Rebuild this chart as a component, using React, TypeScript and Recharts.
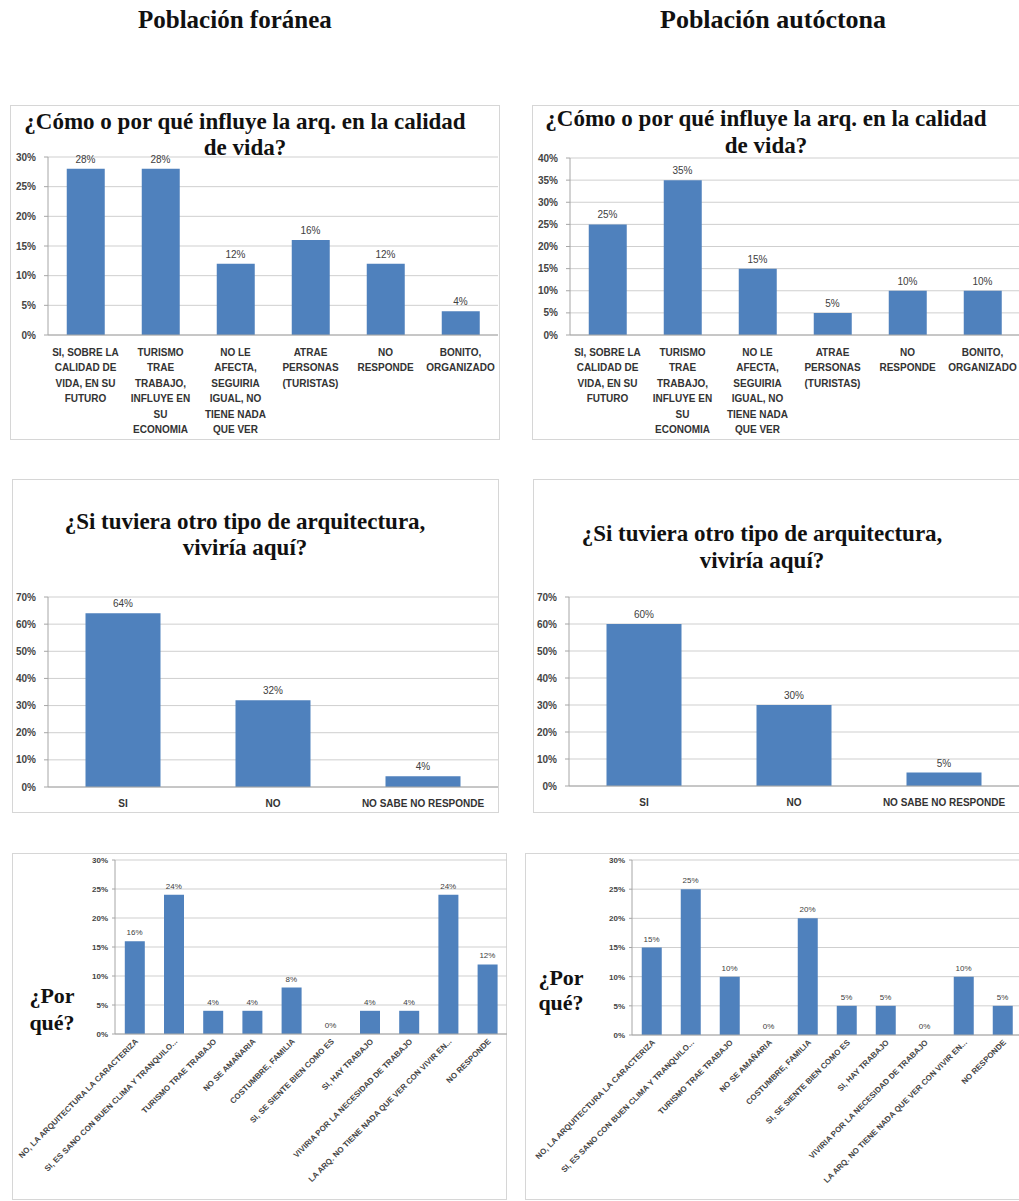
import React from 'react';
import { ComposedChart, Bar, Line, XAxis, YAxis, CartesianGrid, LabelList } from 'recharts';

// top row: "¿Cómo o por qué influye la arq. en la calidad de vida?"
const influenceCategories = [
  'SI, SOBRE LA\nCALIDAD DE\nVIDA, EN SU\nFUTURO',
  'TURISMO\nTRAE\nTRABAJO,\nINFLUYE EN\nSU\nECONOMIA',
  'NO LE\nAFECTA,\nSEGUIRIA\nIGUAL, NO\nTIENE NADA\nQUE VER',
  'ATRAE\nPERSONAS\n(TURISTAS)',
  'NO\nRESPONDE',
  'BONITO,\nORGANIZADO',
];
const influenceForanea = [28, 28, 12, 16, 12, 4];
const influenceAutoctona = [25, 35, 15, 5, 10, 10];
const influenceTicksForanea = [0, 5, 10, 15, 20, 25, 30];
const influenceTicksAutoctona = [0, 5, 10, 15, 20, 25, 30, 35, 40];

// middle row: "¿Si tuviera otro tipo de arquitectura, viviría aquí?"
const viviriaCategories = ['SI', 'NO', 'NO SABE NO RESPONDE'];
const viviriaForanea = [64, 32, 4];
const viviriaAutoctona = [60, 30, 5];
const viviriaTicks = [0, 10, 20, 30, 40, 50, 60, 70];

// bottom row: "¿Por qué?"
const porqueCategories = [
  'NO, LA ARQUITECTURA LA CARACTERIZA',
  'SI, ES SANO CON BUEN CLIMA Y TRANQUILO...',
  'TURISMO TRAE TRABAJO',
  'NO SE AMAÑARIA',
  'COSTUMBRE, FAMILIA',
  'SI, SE SIENTE BIEN COMO ES',
  'SI, HAY TRABAJO',
  'VIVIRIA POR LA NECESIDAD DE TRABAJO',
  'LA ARQ. NO TIENE NADA QUE VER CON VIVIR EN...',
  'NO RESPONDE',
];
const porqueForanea = [16, 24, 4, 4, 8, 0, 4, 4, 24, 12];
const porqueAutoctona = [15, 25, 10, 0, 20, 5, 5, 0, 10, 5];
const porqueTicks = [0, 5, 10, 15, 20, 25, 30];

const BLUE = '#4F81BD';
const SANS = '"Liberation Sans", Arial, sans-serif';
const SERIF = '"Liberation Serif", "Times New Roman", serif';

const toRows = (cats: string[], vals: number[]) => cats.map((c, i) => ({ name: c, value: vals[i] }));

const MultiLineTick = (props: any) => {
  const { x, y, payload, fontSize, lineHeight, offset } = props;
  const lines = String(payload.value).split('\n');
  return (
    <text x={x} y={y + offset} textAnchor="middle" fontSize={fontSize} fontWeight="bold" fill="#333" fontFamily={SANS}>
      {lines.map((l, i) => (
        <tspan key={i} x={x} dy={i === 0 ? 0 : lineHeight}>{l}</tspan>
      ))}
    </text>
  );
};

const RotatedTick = (props: any) => {
  const { x, y, payload } = props;
  const tx = x + 4;
  const ty = y + 8;
  return (
    <text x={tx} y={ty} textAnchor="end" fontSize={8} fontWeight="bold" fill="#444" fontFamily={SANS}
      transform={`rotate(-45, ${tx}, ${ty})`}>
      {payload.value}
    </text>
  );
};

type PanelProps = {
  box: { left: number; top: number; width: number; height: number };
  chart: { left: number; top: number; width: number; height: number; xh: number; yw: number };
  data: { name: string; value: number }[];
  ticks: number[];
  tickFont: number;
  labelFont: number;
  yTickSize: number;
  yTickMargin: number;
  xTick: (p: any) => React.ReactElement;
};

const Panel = ({ box, chart, data, ticks, tickFont, labelFont, yTickSize, yTickMargin, xTick }: PanelProps) => (
  <>
    <div style={{ position: 'absolute', left: box.left, top: box.top, width: box.width, height: box.height, border: '1px solid #d6d6d6', boxSizing: 'border-box' }} />
    <div style={{ position: 'absolute', left: chart.left, top: chart.top }}>
      <ComposedChart width={chart.width} height={chart.height} data={data} margin={{ top: 10, right: 0, bottom: 0, left: 0 }} barCategoryGap="25%">
        <CartesianGrid vertical={false} stroke="#cfcfcf" />
        <XAxis dataKey="name" interval={0} height={chart.xh} tickLine={false} tickSize={0} tickMargin={0}
          axisLine={{ stroke: '#a6a6a6' }} tick={xTick} />
        <YAxis width={chart.yw} domain={[ticks[0], ticks[ticks.length - 1]]} ticks={ticks} interval={0}
          tickFormatter={(v: number) => `${v}%`} tickSize={yTickSize} tickMargin={yTickMargin}
          axisLine={{ stroke: '#a6a6a6' }} tickLine={{ stroke: '#a6a6a6' }}
          tick={{ fontSize: tickFont, fill: '#444', fontFamily: SANS, fontWeight: 'bold' }} />
        <Bar dataKey="value" fill={BLUE} isAnimationActive={false} />
        {/* invisible series that only carries the data labels, so 0% values get one too */}
        <Line dataKey="value" stroke="none" dot={false} activeDot={false} isAnimationActive={false} legendType="none">
          <LabelList dataKey="value" position="top" offset={6} formatter={(v: any) => `${v}%`}
            style={{ fontSize: labelFont, fill: '#404040', fontFamily: SANS }} />
        </Line>
      </ComposedChart>
    </div>
  </>
);

const Title = ({ lines, cx, top, size, lh }: { lines: string[]; cx: number; top: number; size: number; lh: number }) => (
  <div style={{ position: 'absolute', left: cx - 260, top, width: 520, textAlign: 'center', fontFamily: SERIF, fontWeight: 'bold', fontSize: size, lineHeight: `${lh}px`, color: '#111' }}>
    {lines.map((l, i) => <div key={i}>{l}</div>)}
  </div>
);

const topTick = (p: any) => <MultiLineTick {...p} fontSize={10} lineHeight={15.5} offset={20.5} />;
const midTick = (p: any) => <MultiLineTick {...p} fontSize={10} lineHeight={15} offset={19.5} />;
const rotTick = (p: any) => <RotatedTick {...p} />;

export default function App() {
  return (
    <div style={{ position: 'absolute', left: 0, top: 0, width: 1019, height: 1201, overflow: 'hidden', background: '#fff' }}>
      <div style={{ position: 'absolute', left: 138, top: 7, fontFamily: SERIF, fontWeight: 'bold', fontSize: 25, lineHeight: '25px', color: '#111' }}>Población foránea</div>
      <div style={{ position: 'absolute', left: 660, top: 7, fontFamily: SERIF, fontWeight: 'bold', fontSize: 26, lineHeight: '25px', color: '#111' }}>Población autóctona</div>

      {/* row 1 */}
      <Panel box={{ left: 10, top: 105, width: 490, height: 335 }}
        chart={{ left: 8, top: 147, width: 490, height: 288, xh: 100, yw: 40 }}
        data={toRows(influenceCategories, influenceForanea)} ticks={influenceTicksForanea}
        tickFont={10} labelFont={10} yTickSize={4} yTickMargin={8} xTick={topTick} />
      <Title lines={['¿Cómo o por qué influye la arq. en la calidad', 'de vida?']} cx={245} top={109} size={23} lh={26} />

      <Panel box={{ left: 532, top: 105, width: 500, height: 335 }}
        chart={{ left: 530, top: 148, width: 490, height: 287, xh: 100, yw: 40 }}
        data={toRows(influenceCategories, influenceAutoctona)} ticks={influenceTicksAutoctona}
        tickFont={10} labelFont={10} yTickSize={4} yTickMargin={8} xTick={topTick} />
      <Title lines={['¿Cómo o por qué influye la arq. en la calidad', 'de vida?']} cx={766} top={105} size={23} lh={27} />

      {/* row 2 */}
      <Panel box={{ left: 12, top: 479, width: 487, height: 334 }}
        chart={{ left: 8, top: 587, width: 490, height: 224, xh: 24, yw: 40 }}
        data={toRows(viviriaCategories, viviriaForanea)} ticks={viviriaTicks}
        tickFont={10} labelFont={10} yTickSize={4} yTickMargin={8} xTick={midTick} />
      <Title lines={['¿Si tuviera otro tipo de arquitectura,', 'viviría aquí?']} cx={245} top={509} size={23} lh={26} />

      <Panel box={{ left: 533, top: 479, width: 500, height: 334 }}
        chart={{ left: 529, top: 587, width: 490, height: 223, xh: 24, yw: 40 }}
        data={toRows(viviriaCategories, viviriaAutoctona)} ticks={viviriaTicks}
        tickFont={10} labelFont={10} yTickSize={4} yTickMargin={8} xTick={midTick} />
      <Title lines={['¿Si tuviera otro tipo de arquitectura,', 'viviría aquí?']} cx={762} top={520} size={23} lh={27} />

      {/* row 3 */}
      <Panel box={{ left: 12, top: 853, width: 495, height: 347 }}
        chart={{ left: 13, top: 850, width: 494, height: 354, xh: 170, yw: 102 }}
        data={toRows(porqueCategories, porqueForanea)} ticks={porqueTicks}
        tickFont={8} labelFont={8} yTickSize={3} yTickMargin={4} xTick={rotTick} />
      <Title lines={['¿Por', 'qué?']} cx={52} top={982} size={22} lh={27} />

      <Panel box={{ left: 525, top: 853, width: 500, height: 347 }}
        chart={{ left: 527, top: 850, width: 495, height: 355, xh: 170, yw: 105 }}
        data={toRows(porqueCategories, porqueAutoctona)} ticks={porqueTicks}
        tickFont={8} labelFont={8} yTickSize={3} yTickMargin={4} xTick={rotTick} />
      <Title lines={['¿Por', 'qué?']} cx={561} top={965} size={22} lh={25} />
    </div>
  );
}
